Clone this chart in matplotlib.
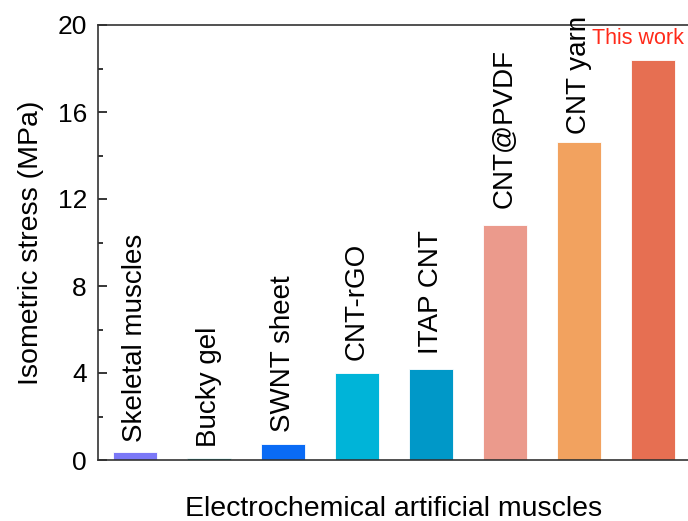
import matplotlib
matplotlib.use("Agg")
import matplotlib.pyplot as plt
from matplotlib.ticker import MultipleLocator

plt.rcParams['font.family'] = ['Liberation Sans', 'DejaVu Sans']

categories = ["Skeletal muscles", "Bucky gel", "SWNT sheet", "CNT-rGO",
              "ITAP CNT", "CNT@PVDF", "CNT yarn", "This work"]
values = [0.35, 0.1, 0.75, 4.0, 4.2, 10.8, 14.6, 18.4]
colors = ["#7B78F7", "#1AA89A", "#0A6BF5", "#00B4D8",
          "#0098C8", "#EB9A8C", "#F2A25F", "#E66F52"]
label_gap_px = [10, 11, 12, 13, 15, 17, 8]

fig = plt.figure(figsize=(6.88, 5.21), dpi=100)
ax = fig.add_axes([98/688, 61/521, 592/688, 435/521])

x = list(range(1, len(values) + 1))
ax.bar(x, values, width=0.6, color=colors, edgecolor='white', linewidth=0.6)

for xi, v, name, gap in zip(x[:-1], values[:-1], categories[:-1], label_gap_px):
    ax.annotate(name, xy=(xi, v), xytext=(0, gap * 0.72), textcoords='offset points',
                rotation=90, ha='center', va='bottom', fontsize=20, color='black')

ax.annotate(categories[-1], xy=(x[-1], values[-1]), xytext=(-11, 8),
            textcoords='offset points', ha='center', va='bottom',
            fontsize=15.5, color='#FF2A1A')

ax.set_xlim(0.5, 8.5)
ax.set_ylim(0, 20)
ax.yaxis.set_major_locator(MultipleLocator(4))
ax.yaxis.set_minor_locator(MultipleLocator(2))
ax.set_xticks([])
ax.tick_params(axis='y', which='major', direction='in', length=6.5, width=1.1,
               labelsize=19, pad=8, right=False)
ax.tick_params(axis='y', which='minor', direction='in', length=3.5, width=1.1, right=False)

for s in ax.spines.values():
    s.set_linewidth(1.2)
    s.set_color('#333333')

ax.set_ylabel("Isometric stress (MPa)", fontsize=20.5, labelpad=10)
ax.set_xlabel("Electrochemical artificial muscles", fontsize=20.5, labelpad=26)

fig.savefig("out.png", dpi=100)
